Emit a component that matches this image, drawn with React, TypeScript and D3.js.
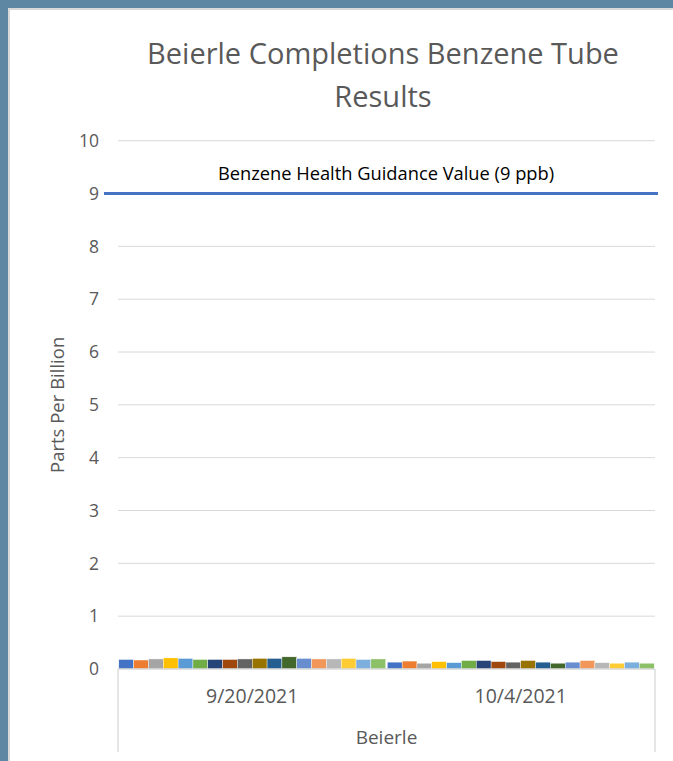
import * as d3 from 'd3';

const categories = ['9/20/2021', '10/4/2021'];
const groupLabel = 'Beierle';
// one value per sampling tube, in series order
const sept20Values = [0.18, 0.17, 0.19, 0.21, 0.2, 0.18, 0.18, 0.18, 0.19, 0.2, 0.2, 0.23, 0.2, 0.19, 0.19, 0.2, 0.18, 0.19];
const oct4Values = [0.13, 0.15, 0.11, 0.14, 0.12, 0.16, 0.16, 0.14, 0.13, 0.16, 0.13, 0.11, 0.13, 0.16, 0.12, 0.11, 0.13, 0.11];
const seriesColors = [
  '#4472C4', '#ED7D31', '#A5A5A5', '#FFC000', '#5B9BD5', '#70AD47',
  '#264478', '#9E480E', '#636363', '#997300', '#255E91', '#43682B',
  '#698ED0', '#F1975A', '#B7B7B7', '#FFCD33', '#7CAFDD', '#8CC168',
];
const yTicks = [0, 1, 2, 3, 4, 5, 6, 7, 8, 9, 10];
const guidanceValue = 9;
const guidanceLabel = 'Benzene Health Guidance Value (9 ppb)';
const titleLines = ['Beierle Completions Benzene Tube', 'Results'];

const W = 673;
const H = 761;
const font = "'Open Sans', sans-serif";
const textColor = '#595959';

export default function App() {
  const plot = { left: 118, right: 655, top: 140.7, bottom: 669 };
  const groups = [sept20Values, oct4Values];

  const y = d3.scaleLinear().domain([0, 10]).range([plot.bottom, plot.top]);
  const x0 = d3.scaleBand().domain(categories).range([plot.left, plot.right]).paddingInner(0).paddingOuter(0);
  const x1 = d3
    .scaleBand()
    .domain(seriesColors.map((_, i) => String(i)))
    .range([0, x0.bandwidth()])
    .paddingOuter(0.055)
    .paddingInner(0);

  return (
    <div style={{ position: 'fixed', left: 0, top: 0 }}>
      <svg width={W} height={H} style={{ display: 'block' }}>
        <rect x={0} y={0} width={W} height={H} fill="#5E87A4" />
        <rect x={8} y={8} width={W - 8} height={H - 8} fill="#D9D9D9" />
        <rect x={10} y={10} width={W - 10} height={H - 10} fill="#ffffff" />

        {/* title, two lines */}
        {titleLines.map((line, i) => (
          <text key={line} x={383} y={64 + i * 43} textAnchor="middle" fontFamily={font} fontSize={29} fill={textColor}>
            {line}
          </text>
        ))}

        {/* gridlines */}
        {yTicks.slice(1).map((t) => (
          <line key={t} x1={plot.left} x2={plot.right} y1={y(t)} y2={y(t)} stroke="#D9D9D9" strokeWidth={1} />
        ))}

        {/* y tick labels */}
        {yTicks.map((t) => (
          <text key={t} x={99} y={y(t)} dy="0.36em" textAnchor="end" fontFamily={font} fontSize={17.5} fill={textColor}>
            {t}
          </text>
        ))}

        <text
          transform={`translate(64, ${(plot.top + plot.bottom) / 2}) rotate(-90)`}
          textAnchor="middle"
          fontFamily={font}
          fontSize={18.5}
          fill={textColor}
        >
          Parts Per Billion
        </text>

        {/* bars */}
        {groups.map((vals, gi) =>
          vals.map((v, si) => (
            <rect
              key={`${gi}-${si}`}
              x={(x0(categories[gi]) || 0) + (x1(String(si)) || 0)}
              y={y(v)}
              width={x1.bandwidth()}
              height={plot.bottom - y(v)}
              fill={seriesColors[si]}
              stroke="#ffffff"
              strokeWidth={0.4}
            />
          ))
        )}

        {/* category axis */}
        <line x1={plot.left} x2={plot.right} y1={plot.bottom} y2={plot.bottom} stroke="#D9D9D9" strokeWidth={1.3} />
        <line x1={plot.left} x2={plot.left} y1={plot.bottom} y2={752} stroke="#D9D9D9" strokeWidth={1.3} />
        <line x1={plot.right} x2={plot.right} y1={plot.bottom} y2={752} stroke="#D9D9D9" strokeWidth={1.3} />
        {categories.map((c) => (
          <text
            key={c}
            x={(x0(c) || 0) + x0.bandwidth() / 2}
            y={703}
            textAnchor="middle"
            fontFamily={font}
            fontSize={19.5}
            fill={textColor}
          >
            {c}
          </text>
        ))}
        <text x={(plot.left + plot.right) / 2} y={744} textAnchor="middle" fontFamily={font} fontSize={19} fill={textColor}>
          {groupLabel}
        </text>

        {/* guidance line */}
        <line
          x1={plot.left - 14}
          x2={plot.right + 3}
          y1={y(guidanceValue)}
          y2={y(guidanceValue)}
          stroke="#4472C4"
          strokeWidth={3}
        />
        <text x={386} y={180} textAnchor="middle" fontFamily={font} fontSize={18.3} fill="#000000">
          {guidanceLabel}
        </text>
      </svg>
    </div>
  );
}
